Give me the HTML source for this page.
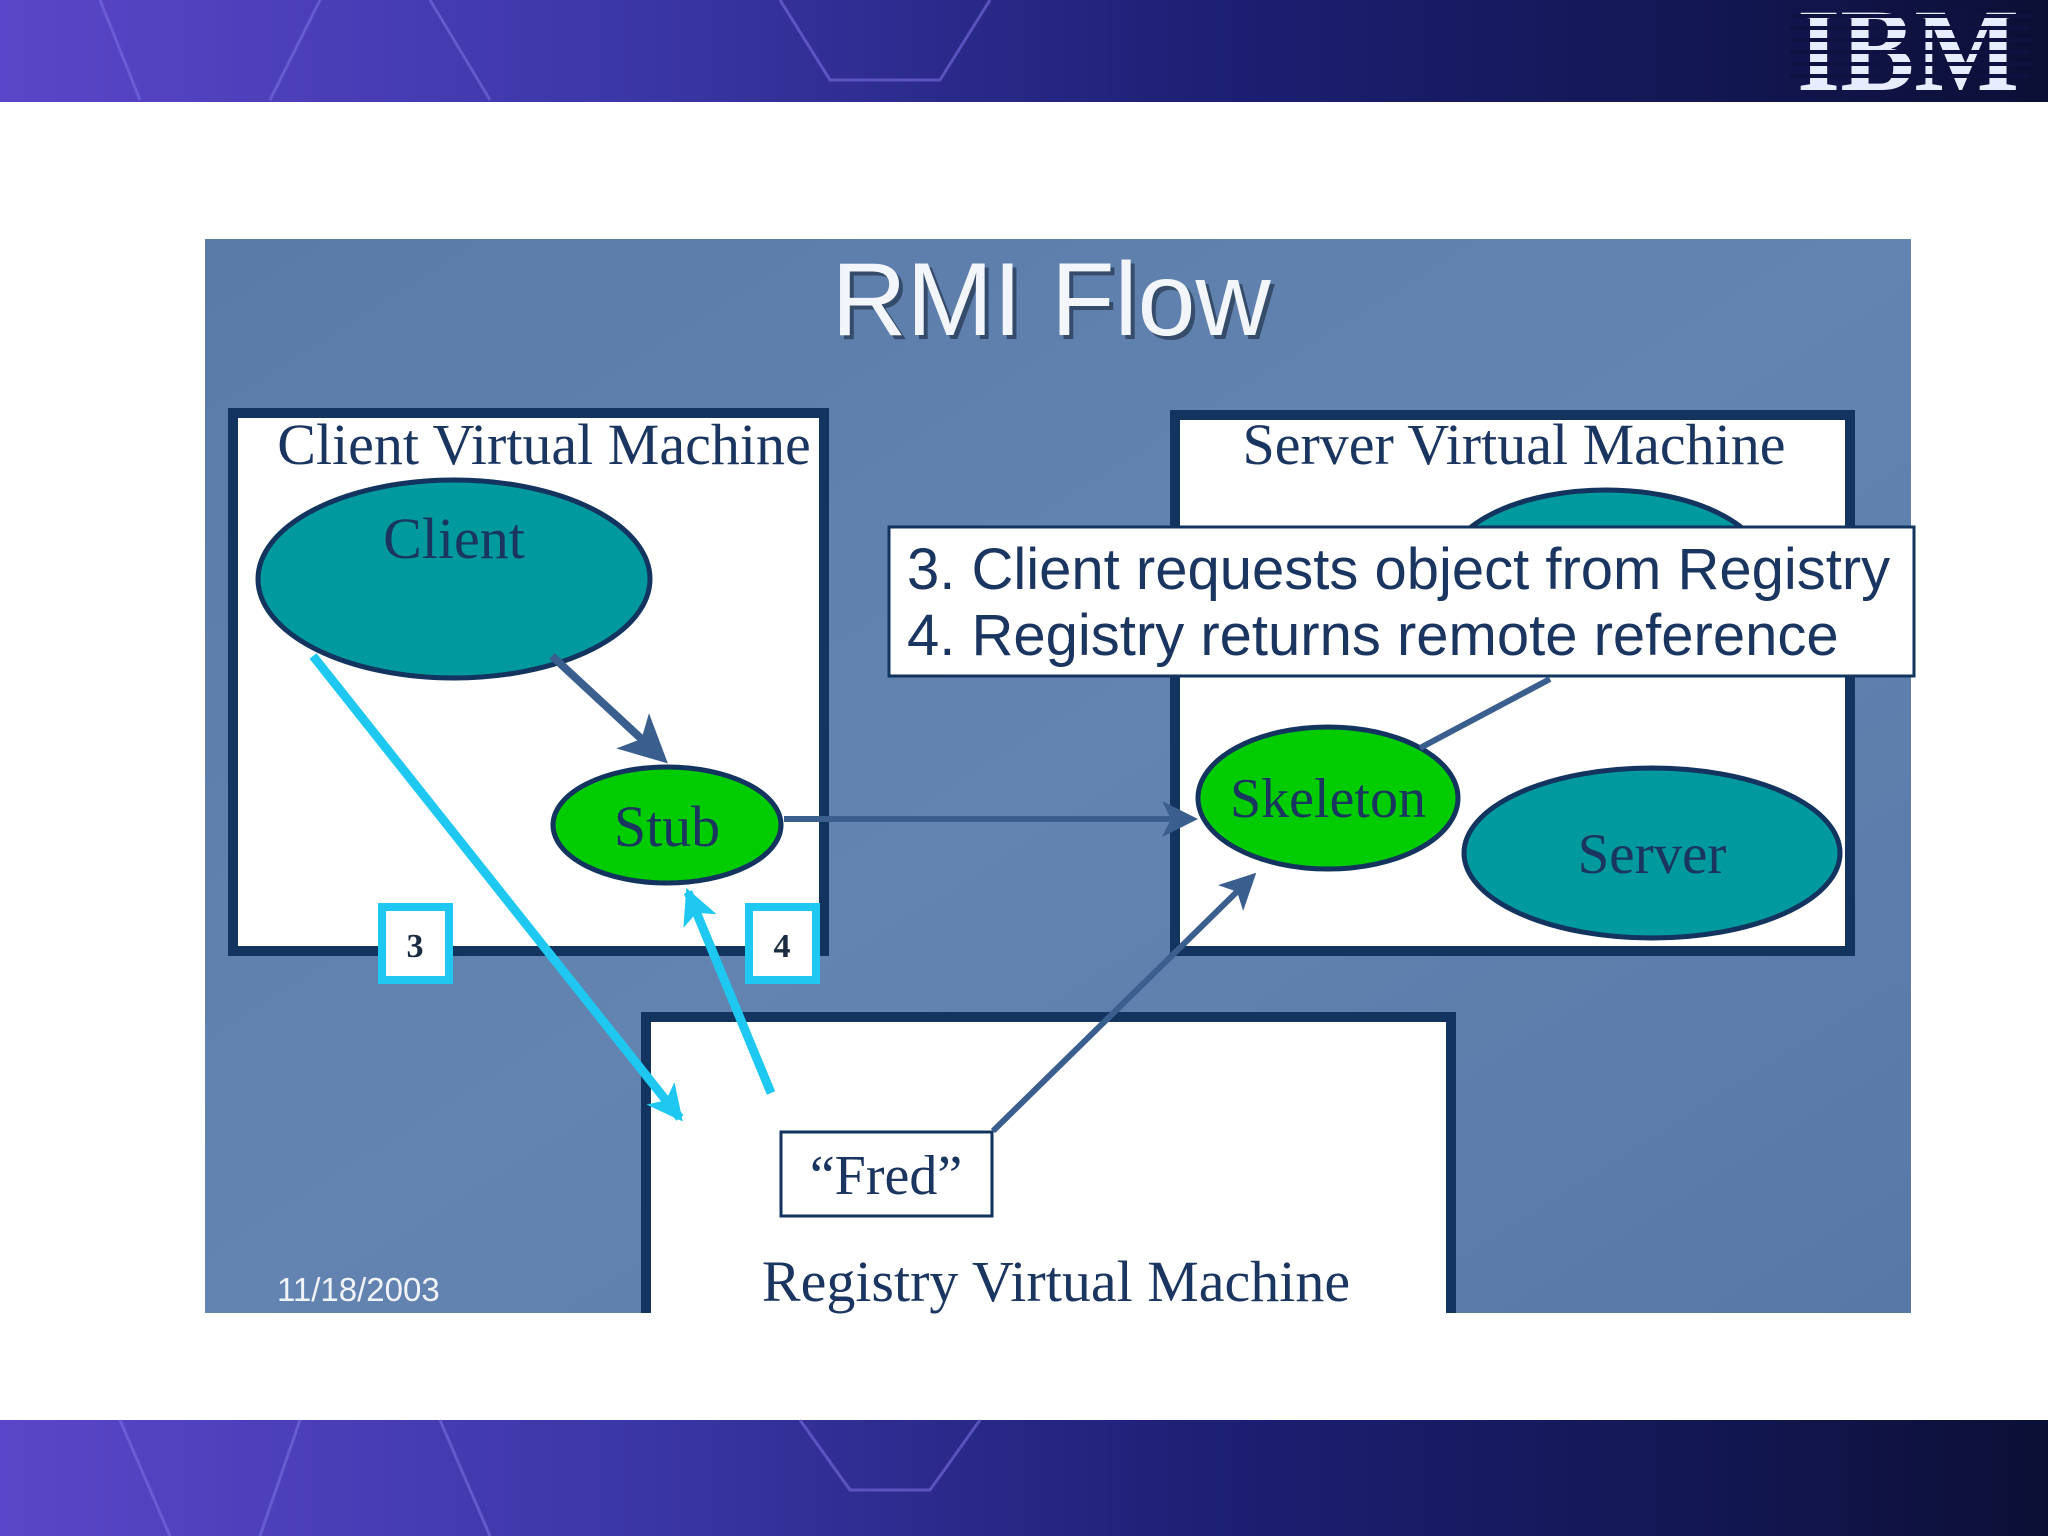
<!DOCTYPE html>
<html><head><meta charset="utf-8">
<style>
html,body{margin:0;padding:0;}
body{width:2048px;height:1536px;position:relative;overflow:hidden;background:#fff;font-family:"Liberation Sans",sans-serif;}
.band{position:absolute;left:0;width:2048px;background:linear-gradient(90deg,#5a46c8 0%,#3c37a8 30%,#1c1f72 60%,#121650 85%,#0c0f35 100%);}
</style></head><body>
<div class="band" style="top:0;height:102px;"></div>
<div class="band" style="top:1420px;height:116px;"></div>
<svg width="2048" height="1536" style="position:absolute;left:0;top:0">
<defs>
<linearGradient id="pg" x1="0" y1="0" x2="1" y2="1">
<stop offset="0" stop-color="#5a7aa8"/><stop offset="0.5" stop-color="#6383b0"/><stop offset="1" stop-color="#5878a8"/>
</linearGradient>
<marker id="ad" markerWidth="6" markerHeight="6" refX="5" refY="3" orient="auto" markerUnits="strokeWidth"><path d="M0,0 L6,3 L0,6 L1.5,3 z" fill="#3a5f8f"/></marker>
<marker id="ac" markerWidth="4" markerHeight="4" refX="3.5" refY="2" orient="auto" markerUnits="strokeWidth"><path d="M0,0 L4,2 L0,4 L1,2 z" fill="#1ec8f0"/></marker>
</defs>
<g stroke="#7a6ee0" stroke-width="3" fill="none" opacity="0.6">
<path d="M100,0 L140,100 M270,100 L320,0 M430,0 L490,100 M780,0 L830,80 L940,80 L990,0"/>
<path d="M120,1420 L170,1536 M300,1420 L260,1536 M440,1420 L490,1536 M800,1420 L850,1490 L930,1490 L980,1420"/>
</g>
<g fill="#e8ecff">
<text x="1908" y="90" font-family="Liberation Serif,serif" font-weight="bold" font-size="118" text-anchor="middle" textLength="222" lengthAdjust="spacingAndGlyphs">IBM</text>
</g>
<g fill="#0e1240">
<rect x="1790" y="14" width="240" height="4"/><rect x="1790" y="26" width="240" height="4"/><rect x="1790" y="38" width="240" height="4"/><rect x="1790" y="50" width="240" height="4"/><rect x="1790" y="62" width="240" height="4"/><rect x="1790" y="74" width="240" height="4"/>
</g>
<rect x="205" y="239" width="1706" height="1074" fill="url(#pg)"/>
<text x="1051" y="335" font-size="104" fill="#1a2a40" text-anchor="middle" opacity="0.6" dx="4" dy="4">RMI Flow</text>
<text x="1051" y="335" font-size="104" fill="#f2f6fa" text-anchor="middle">RMI Flow</text>
<rect x="233" y="413" width="591" height="538" fill="#fff" stroke="#12345e" stroke-width="10"/>
<text x="544" y="464" font-family="Liberation Serif,serif" font-size="58" fill="#1a3560" text-anchor="middle">Client Virtual Machine</text>
<rect x="1175" y="415" width="675" height="536" fill="#fff" stroke="#12345e" stroke-width="10"/>
<text x="1514" y="464" font-family="Liberation Serif,serif" font-size="58" fill="#1a3560" text-anchor="middle">Server Virtual Machine</text>
<ellipse cx="1606" cy="570" rx="160" ry="80" fill="#00999c" stroke="#12345e" stroke-width="5"/>
<path d="M646,1313 L646,1017 L1451,1017 L1451,1313" fill="#fff" stroke="#12345e" stroke-width="10"/>
<text x="1056" y="1301" font-family="Liberation Serif,serif" font-size="58" fill="#1a3560" text-anchor="middle">Registry Virtual Machine</text>
<rect x="781" y="1132" width="211" height="84" fill="#fff" stroke="#12345e" stroke-width="3"/>
<text x="886" y="1194" font-family="Liberation Serif,serif" font-size="56" fill="#1a3560" text-anchor="middle">“Fred”</text>
<rect x="889" y="527" width="1025" height="149" fill="#fff" stroke="#12345e" stroke-width="3"/>
<text x="907" y="589" font-size="58" fill="#1a3560">3. Client requests object from Registry</text>
<text x="907" y="655" font-size="58" fill="#1a3560">4. Registry returns remote reference</text>
<ellipse cx="454" cy="579" rx="196" ry="99" fill="#00999c" stroke="#12345e" stroke-width="5"/>
<text x="454" y="558" font-family="Liberation Serif,serif" font-size="58" fill="#1a3560" text-anchor="middle">Client</text>
<ellipse cx="667" cy="825" rx="114" ry="58" fill="#00cc00" stroke="#12345e" stroke-width="5"/>
<text x="667" y="846" font-family="Liberation Serif,serif" font-size="58" fill="#1a3560" text-anchor="middle">Stub</text>
<ellipse cx="1328" cy="798" rx="130" ry="71" fill="#00cc00" stroke="#12345e" stroke-width="5"/>
<text x="1328" y="817" font-family="Liberation Serif,serif" font-size="56" fill="#1a3560" text-anchor="middle">Skeleton</text>
<ellipse cx="1652" cy="853" rx="188" ry="85" fill="#00999c" stroke="#12345e" stroke-width="5"/>
<text x="1652" y="873" font-family="Liberation Serif,serif" font-size="57" fill="#1a3560" text-anchor="middle">Server</text>
<line x1="552" y1="656" x2="662" y2="758" stroke="#3a5f8f" stroke-width="8" marker-end="url(#ad)"/>
<line x1="784" y1="819" x2="1192" y2="819" stroke="#3a5f8f" stroke-width="6" marker-end="url(#ad)"/>
<line x1="993" y1="1131" x2="1252" y2="877" stroke="#3a5f8f" stroke-width="6" marker-end="url(#ad)"/>
<line x1="1420" y1="748" x2="1550" y2="679" stroke="#3a5f8f" stroke-width="6"/>
<line x1="313" y1="656" x2="680" y2="1118" stroke="#1ec8f0" stroke-width="9" marker-end="url(#ac)"/>
<line x1="771" y1="1093" x2="688" y2="892" stroke="#1ec8f0" stroke-width="9" marker-end="url(#ac)"/>
<rect x="382" y="907" width="67" height="73" fill="#fff" stroke="#1ec8f0" stroke-width="8"/>
<text x="415" y="957" font-family="Liberation Serif,serif" font-weight="bold" font-size="34" fill="#1a2a40" text-anchor="middle">3</text>
<rect x="749" y="907" width="67" height="73" fill="#fff" stroke="#1ec8f0" stroke-width="8"/>
<text x="782" y="957" font-family="Liberation Serif,serif" font-weight="bold" font-size="34" fill="#1a2a40" text-anchor="middle">4</text>
<text x="277" y="1301" font-size="33" fill="#f0f4f8">11/18/2003</text>
</svg>
</body></html>
